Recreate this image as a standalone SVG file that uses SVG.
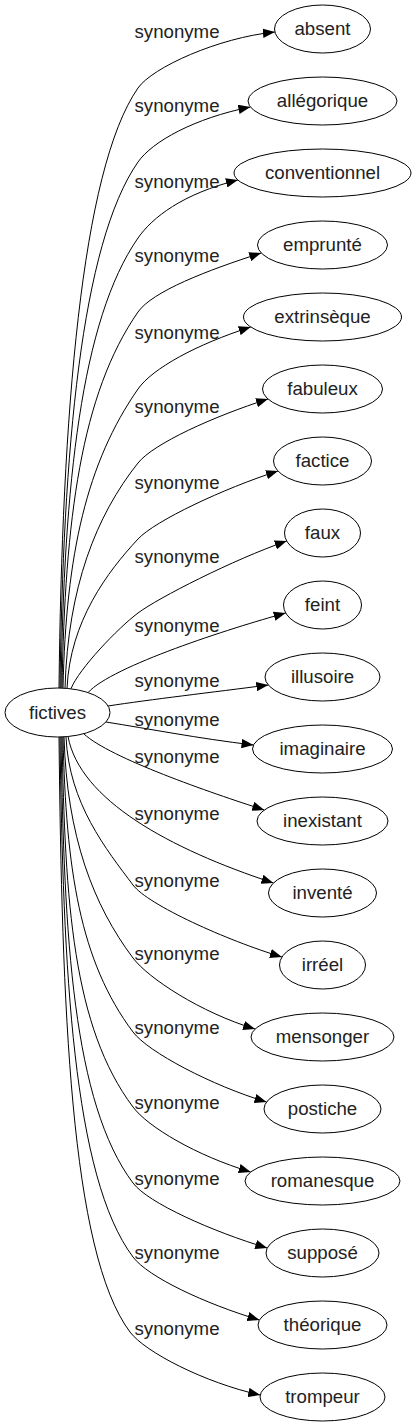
<svg xmlns="http://www.w3.org/2000/svg" width="416" height="1427" viewBox="0 0 416 1427">
<style>
.n ellipse{fill:#fff;stroke:#000;stroke-width:1}
.n text,.lbl{font-family:"Liberation Sans",Arial,sans-serif;font-size:18.67px;fill:#222;text-anchor:middle}
#edges path{fill:none;stroke:#000;stroke-width:1;marker-end:url(#ah)}
</style>
<defs>
<marker id="ah" viewBox="0 0 12 9.4" refX="12" refY="4.7" markerWidth="12" markerHeight="9.4" markerUnits="userSpaceOnUse" orient="auto"><path d="M0,0 L12,4.7 L0,9.4 z" fill="#000"/></marker>
</defs>
<rect width="416" height="1427" fill="#fff"/>
<g id="edges">
<path d="M59,688 C62,418 81,170 138,88 C152.3,67.5 218.2,37.7 274.9,32"/>
<path d="M60,688 C63,451.3 81,244 138,162 C152.3,141.5 194.5,118.2 250.4,107"/>
<path d="M61,688.1 C64,485.6 81,320 138,238 C152.3,217.5 182.6,193.8 237.9,180"/>
<path d="M62,688.1 C65,518.9 81,394 138,312 C152.3,291.5 206.9,270.4 261.2,253"/>
<path d="M63,688.2 C66,553.6 86.8,462.6 138,389 C152.3,368.5 196.4,344.4 250.7,327"/>
<path d="M65,688.3 C68,586.9 96.1,515.7 138,463 C153.5,443.5 213.7,416.4 268,399"/>
<path d="M67,688.5 C70,621.2 107.5,571.8 138,539 C155,520.8 223.7,488.4 278,471"/>
<path d="M71,688.7 C79,668.7 118,628 138,613 C158,598 232.9,559.8 286.7,541"/>
<path d="M88,692.6 C112,666 230.8,628.1 285.7,613"/>
<path d="M108,706 C150,699.5 211.8,692.4 268.3,685"/>
<path d="M106,722 C150,729 196.9,738.2 253.5,745"/>
<path d="M84,734 C110,758 210,792.6 264.3,810"/>
<path d="M68,736.5 C80,800 168.9,848.6 273.4,883"/>
<path d="M66,736.9 C69,803.5 106.4,849.5 133,885 C148,905 227.3,940.6 281.9,957"/>
<path d="M64,737 C67,836.5 93.2,905 133,958 C148,978 200.5,1012.6 255.1,1029"/>
<path d="M63,737 C66,869.75 79.9,961.2 133,1032 C148,1052 211.9,1085.6 266.5,1102"/>
<path d="M62,737 C65,903.5 73,1027 133,1107 C148,1127 196.1,1155.6 250.7,1172"/>
<path d="M61,737 C64,937.7 73,1103 133,1183 C148,1203 212.6,1231.6 267.2,1248"/>
<path d="M60,737 C63,971 73,1177 133,1257 C148,1277 204.8,1303.6 259.4,1320"/>
<path d="M59,737 C62,1004.75 70,1252 130,1332 C145,1352 204.5,1382.7 260.2,1395"/>
</g>
<g id="edge-labels">
<text class="lbl" x="177" y="38">synonyme</text>
<text class="lbl" x="177" y="112">synonyme</text>
<text class="lbl" x="177" y="188">synonyme</text>
<text class="lbl" x="177" y="262">synonyme</text>
<text class="lbl" x="177" y="339">synonyme</text>
<text class="lbl" x="177" y="413">synonyme</text>
<text class="lbl" x="177" y="489">synonyme</text>
<text class="lbl" x="177" y="563">synonyme</text>
<text class="lbl" x="177" y="632">synonyme</text>
<text class="lbl" x="177" y="687">synonyme</text>
<text class="lbl" x="177" y="726">synonyme</text>
<text class="lbl" x="177" y="763">synonyme</text>
<text class="lbl" x="177" y="820">synonyme</text>
<text class="lbl" x="177" y="887">synonyme</text>
<text class="lbl" x="177" y="960">synonyme</text>
<text class="lbl" x="177" y="1034">synonyme</text>
<text class="lbl" x="177" y="1109">synonyme</text>
<text class="lbl" x="177" y="1185">synonyme</text>
<text class="lbl" x="177" y="1259">synonyme</text>
<text class="lbl" x="177" y="1335">synonyme</text>
</g>
<g id="fictives" class="n"><ellipse cx="57.5" cy="712.5" rx="52.5" ry="24.5"/><text x="57.5" y="719">fictives</text></g>
<g id="absent" class="n"><ellipse cx="322.5" cy="29" rx="48" ry="24"/><text x="322.5" y="35">absent</text></g>
<g id="allegorique" class="n"><ellipse cx="322.5" cy="101" rx="74.5" ry="24"/><text x="322.5" y="107">allégorique</text></g>
<g id="conventionnel" class="n"><ellipse cx="322.5" cy="173" rx="88.5" ry="24"/><text x="322.5" y="179">conventionnel</text></g>
<g id="emprunte" class="n"><ellipse cx="322.5" cy="245" rx="65" ry="24"/><text x="322.5" y="251">emprunté</text></g>
<g id="extrinseque" class="n"><ellipse cx="322.5" cy="317" rx="79" ry="24"/><text x="322.5" y="323">extrinsèque</text></g>
<g id="fabuleux" class="n"><ellipse cx="322.5" cy="389" rx="60" ry="24"/><text x="322.5" y="395">fabuleux</text></g>
<g id="factice" class="n"><ellipse cx="322.5" cy="461" rx="49" ry="24"/><text x="322.5" y="467">factice</text></g>
<g id="faux" class="n"><ellipse cx="322.5" cy="533" rx="38" ry="24"/><text x="322.5" y="539">faux</text></g>
<g id="feint" class="n"><ellipse cx="322.5" cy="605" rx="39" ry="24"/><text x="322.5" y="611">feint</text></g>
<g id="illusoire" class="n"><ellipse cx="322.5" cy="677" rx="57.5" ry="24"/><text x="322.5" y="683">illusoire</text></g>
<g id="imaginaire" class="n"><ellipse cx="322.5" cy="749" rx="70" ry="24"/><text x="322.5" y="755">imaginaire</text></g>
<g id="inexistant" class="n"><ellipse cx="322.5" cy="821" rx="65.5" ry="24"/><text x="322.5" y="827">inexistant</text></g>
<g id="invente" class="n"><ellipse cx="322.5" cy="893" rx="54" ry="24"/><text x="322.5" y="899">inventé</text></g>
<g id="irreel" class="n"><ellipse cx="322.5" cy="965" rx="43" ry="24"/><text x="322.5" y="971">irréel</text></g>
<g id="mensonger" class="n"><ellipse cx="322.5" cy="1037" rx="71.5" ry="24"/><text x="322.5" y="1043">mensonger</text></g>
<g id="postiche" class="n"><ellipse cx="322.5" cy="1109" rx="58.5" ry="24"/><text x="322.5" y="1115">postiche</text></g>
<g id="romanesque" class="n"><ellipse cx="322.5" cy="1181" rx="77.5" ry="24"/><text x="322.5" y="1187">romanesque</text></g>
<g id="suppose" class="n"><ellipse cx="322.5" cy="1253" rx="56.5" ry="24"/><text x="322.5" y="1259">supposé</text></g>
<g id="theorique" class="n"><ellipse cx="322.5" cy="1325" rx="64.5" ry="24"/><text x="322.5" y="1331">théorique</text></g>
<g id="trompeur" class="n"><ellipse cx="322.5" cy="1397" rx="62.5" ry="24"/><text x="322.5" y="1403">trompeur</text></g>
</svg>
